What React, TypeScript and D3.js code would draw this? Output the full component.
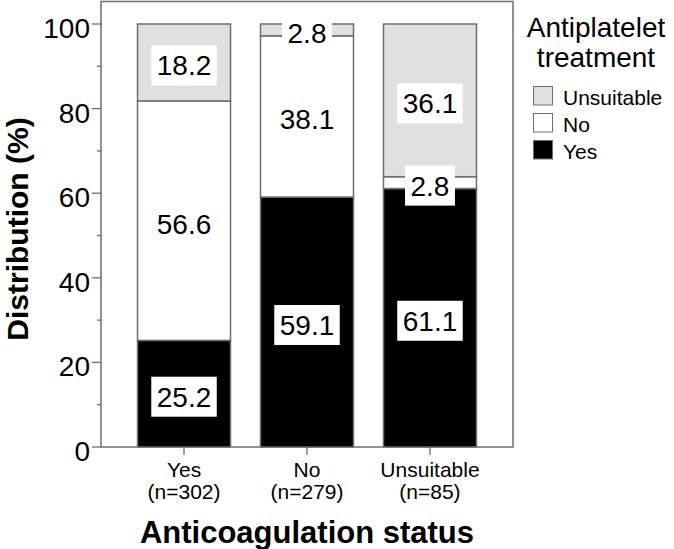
import React from 'react';
import * as d3 from 'd3';

// anticoagulation status groups (x axis)
const categories = ['Yes', 'No', 'Unsuitable'];
const categoryCounts = ['(n=302)', '(n=279)', '(n=85)'];

// antiplatelet treatment distribution (%) per group, bottom to top
const seriesNames = ['Yes', 'No', 'Unsuitable'];
const yesValues = [25.2, 59.1, 61.1];
const noValues = [56.6, 38.1, 2.8];
const unsuitableValues = [18.2, 2.8, 36.1];

const yTicks = [0, 20, 40, 60, 80, 100];
const yMinorTicks = [10, 30, 50, 70, 90];

const fills: Record<string, string> = { Yes: '#000000', No: '#ffffff', Unsuitable: '#e0e0e0' };
const FONT = 'Liberation Sans, Arial, Helvetica, sans-serif';
const GRAY = '#6e6e6e';

// rough Arial width of a number label, in em
function labelWidth(s: string, size: number) {
  let w = 0;
  for (const c of s) w += c === '.' ? 0.278 : 0.556;
  return w * size;
}

export default function App() {
  const width = 674, height = 549;
  const frame = { left: 101, right: 513, top: 1.5, bottom: 447 };

  const rows = categories.map((c, i) => ({
    cat: c,
    Yes: yesValues[i],
    No: noValues[i],
    Unsuitable: unsuitableValues[i],
  }));
  const stacked = d3.stack<any>().keys(seriesNames)(rows);

  const x = d3.scaleBand<string>()
    .domain(categories)
    .range([frame.left, frame.right])
    .paddingInner(0.244)
    .paddingOuter(0.297);
  const y = d3.scaleLinear().domain([0, 100]).range([447, 24]);

  const labelSize = 28;

  return (
    <svg width={width} height={height} style={{ position: 'absolute', left: 0, top: 0, background: '#fff' }}
      fontFamily={FONT}>
      {/* plot frame */}
      <rect x={frame.left} y={frame.top} width={frame.right - frame.left} height={frame.bottom - frame.top}
        fill="#fff" stroke={GRAY} strokeWidth={1.5} />

      {/* bars */}
      {stacked.map(layer => (
        <g key={layer.key}>
          {layer.map((d, i) => (
            <rect key={i} x={x(categories[i])} width={x.bandwidth()}
              y={y(d[1])} height={y(d[0]) - y(d[1])}
              fill={fills[layer.key]} stroke={GRAY} strokeWidth={1.5} />
          ))}
        </g>
      ))}

      {/* value labels */}
      {stacked.map(layer => (
        <g key={'l' + layer.key}>
          {layer.map((d, i) => {
            const txt = (d[1] - d[0]).toFixed(1);
            const cx = (x(categories[i]) as number) + x.bandwidth() / 2;
            const cy = (y(d[0]) + y(d[1])) / 2 + 3;
            const w = labelWidth(txt, labelSize) + 11;
            return (
              <g key={i}>
                <rect x={cx - w / 2} y={cy - 20} width={w} height={40} fill="#fff" />
                <text x={cx} y={cy + 10} textAnchor="middle" fontSize={labelSize} fill="#000">{txt}</text>
              </g>
            );
          })}
        </g>
      ))}

      {/* y axis ticks */}
      {yTicks.map(t => (
        <g key={t}>
          <line x1={92} x2={frame.left} y1={y(t)} y2={y(t)} stroke={GRAY} strokeWidth={1.3} />
          <text x={90} y={y(t) + 14} textAnchor="end" fontSize={28} fill="#000">{t}</text>
        </g>
      ))}
      {yMinorTicks.map(t => (
        <line key={t} x1={97} x2={frame.left} y1={y(t)} y2={y(t)} stroke={GRAY} strokeWidth={1.3} />
      ))}

      {/* x axis ticks */}
      {categories.map((c, i) => {
        const cx = (x(c) as number) + x.bandwidth() / 2;
        return (
          <g key={c}>
            <line x1={cx} x2={cx} y1={frame.bottom} y2={frame.bottom + 8} stroke={GRAY} strokeWidth={1.3} />
            <text x={cx} y={477} textAnchor="middle" fontSize={21} fill="#000">{c}</text>
            <text x={cx} y={499} textAnchor="middle" fontSize={21} fill="#000">{categoryCounts[i]}</text>
          </g>
        );
      })}

      {/* axis titles */}
      <text x={(frame.left + frame.right) / 2} y={543} textAnchor="middle" fontSize={31} fontWeight="bold" fill="#000">
        Anticoagulation status
      </text>
      <text transform="translate(28,229) rotate(-90)" textAnchor="middle" fontSize={30} fontWeight="bold" fill="#000">
        Distribution (%)
      </text>

      {/* legend */}
      <text x={596} y={37} textAnchor="middle" fontSize={28} fill="#000">Antiplatelet</text>
      <text x={596} y={67} textAnchor="middle" fontSize={28} fill="#000">treatment</text>
      {seriesNames.slice().reverse().map((s, i) => (
        <g key={s} transform={`translate(533,${86 + i * 27})`}>
          <rect x={0.5} y={0.5} width={19} height={18.5} fill={fills[s]} stroke={GRAY} strokeWidth={1} />
          <text x={30} y={18.5} fontSize={21} fill="#000">{s}</text>
        </g>
      ))}
    </svg>
  );
}
